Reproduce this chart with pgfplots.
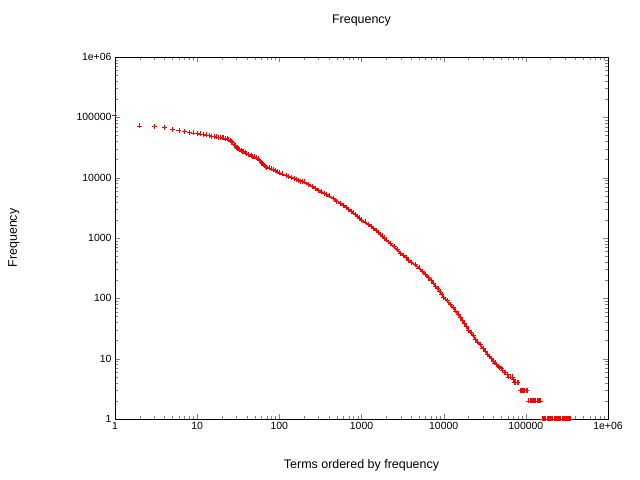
\documentclass[border=0pt]{standalone}
\usepackage{pgfplots}
\pgfplotsset{compat=1.18}
\usepackage{fontspec}
\setmainfont{Liberation Sans}
\begin{document}
\begin{tikzpicture}[x=1bp,y=1bp]
\path[use as bounding box] (-115,-61) rectangle (525,419);
\begin{axis}[at={(0,0)},anchor=south west,scale only axis,width=493bp,height=362bp,
xmode=log,ymode=log,xmin=1,xmax=1e6,ymin=1,ymax=1e6,clip=false,
xtick={1,10,100,1000,10000,100000,1000000},
xticklabels={1,10,100,1000,10000,100000,1e+06},
ytick={1,10,100,1000,10000,100000,1000000},
yticklabels={1,10,100,1000,10000,100000,1e+06},
minor tick num=0, tick align=inside, major tick length=5bp,
ticklabel style={font=\fontsize{10.5}{12}\selectfont},
title={Frequency}, title style={font=\fontsize{12.5}{14}\selectfont, at={(axis description cs:0.5,1.0856)},anchor=center},
xlabel={Terms ordered by frequency}, ylabel={Frequency},
label style={font=\fontsize{12.5}{14}\selectfont},
xlabel style={at={(axis description cs:0.5,-0.127)},anchor=center},
ylabel style={at={(axis description cs:-0.205,0.5)},anchor=center},
axis line style={black,line width=0.5pt}]
\addplot[red, line width=1.6pt, no marks] coordinates {
(28,36000)(30,32000)(35,27600)(40,25000)(50,22000)(55,20500)(60,18000)(70,15000)(100,12000)(140,10000)(200,8500)(300,6200)(400,5000)(600,3500)(1000,2000)(1400,1450)(2000,930)(3000,560)(4000,400)(5000,320)(7000,200)(10000,105)(14000,62)(20000,30)(26000,19)(34000,12)(42000,8.5)(50000,7)
};
\addplot[only marks, red, mark=+, mark size=2.5bp, line width=0.6pt] coordinates {
(1,110000)(2,72000)(3,70000)(4,68000)(5,64000)(6,61000)(7,58000)(8,56000)(9,55000)(10,54000)
(11,53000)(12,52000)(13,51000)(14,50000)(15,49000)(16,48000)(17,47500)(18,47000)(19,46500)(20,46000)(21,45500)(22,45000)(23,44000)(24,43000)(25,41500)(26,40000)(27,38000)(28,36000)(29,34000)(30,32000)
(31,31000)(32,30000)(33,29000)(34,28300)(35,27600)(36,27000)(38,26000)(40,25000)(42,24200)(45,23000)(47,22500)(50,22000)(52,21300)(55,20500)(57,19500)(60,18000)(62,17000)(65,16000)(67,15500)(70,15000)
(75,14500)(80,14000)(85,13500)(90,13000)(95,12500)(100,12000)(110,11500)(120,11000)(130,10500)(140,10000)(150,9600)(160,9300)(170,9000)(180,8800)(190,8600)(200,8500)
(225,7800)(250,7200)(275,6700)(300,6200)(325,5800)(350,5500)(375,5200)(400,5000)(450,4500)(500,4100)(550,3800)(600,3500)(650,3200)(700,3000)(750,2800)(800,2600)(850,2450)(900,2300)(950,2150)(1000,2000)
(1100,1850)(1200,1700)(1300,1570)(1400,1450)(1500,1350)(1600,1250)(1700,1160)(1800,1080)(1900,1000)(2000,930)(2250,820)(2500,720)(2750,640)(3000,560)(3250,510)(3500,470)(3750,430)(4000,400)(4500,360)(5000,320)
(5500,280)(6000,250)(6500,225)(7000,200)(7500,180)(8000,160)(8500,145)(9000,130)(9500,117)(10000,105)(11000,92)(12000,80)(13000,70)(14000,62)(15000,55)(16000,48)(17000,43)(18000,38)(19000,34)(20000,30)
(21500,27)(23000,24)(24500,21)(26000,19)(28000,17)(30000,15)(32000,13.5)(34000,12)(36000,11)(38000,10)(40000,9.2)(42000,8.5)(44000,8)(46000,7.5)(48000,7.2)(50000,7)(52000,6.5)(55000,6)(57000,6)(60000,5.5)(62000,5)(65000,5)(68000,5)(70000,4.5)(73000,4)(75000,4)(78000,4)(80000,4)
(85000,3)(88000,3)(91000,3)(94000,3)(97000,3)(100000,3)(103000,3)
(108000,2)(112000,2)(116000,2)(120000,2)(124000,2)(128000,2)(132000,2)(136000,2)(140000,2)(145000,2)(150000,2)
(158000,1)(163000,1)(168000,1)(174000,1)(180000,1)(186000,1)(192000,1)(198000,1)(205000,1)(212000,1)(219000,1)(226000,1)(234000,1)(242000,1)(250000,1)(258000,1)(266000,1)(275000,1)(284000,1)(293000,1)(302000,1)(312000,1)(322000,1)(332000,1)(342000,1)(350000,1)
};
\end{axis}
\end{tikzpicture}
\end{document}
